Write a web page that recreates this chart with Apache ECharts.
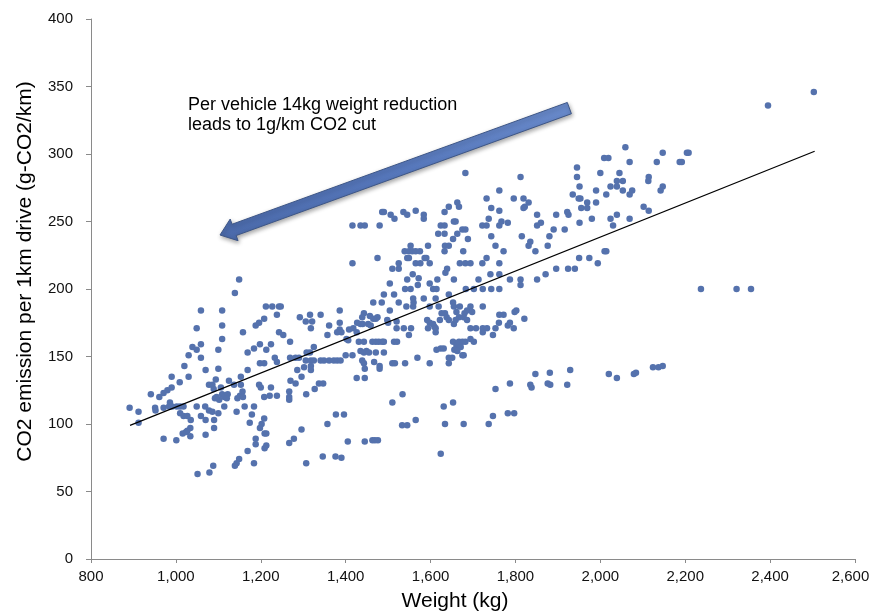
<!DOCTYPE html>
<html>
<head>
<meta charset="utf-8">
<script src="https://cdn.jsdelivr.net/npm/echarts@6/dist/echarts.min.js"></script>
<style>
  html, body { margin: 0; padding: 0; background: #ffffff; }
  #chart { width: 870px; height: 613px; }
</style>
</head>
<body>
<div id="chart"></div>
<script>
// Vehicle kerb weight (kg) against CO2 emission per km (g-CO2/km)
const vehicles = [
  [1149,207],[1139,197],[1059,184],[1109,184],[1212,187],[1227,187],[1243,187],[1247,187],
  [1238,181],[1188,173],[1196,175],[1208,178],[1109,173],[1049,171],[1158,168],[1243,168],
  [1253,166],[1109,163],[1039,157],[1049,155],[1059,159],[1030,151],[1059,149],[1100,155],
  [1169,153],[1184,156],[1198,159],[1213,155],[1224,159],[1269,161],[1020,143],[1070,140],
  [1100,141],[990,135],[1030,135],[1009,131],[990,127],[980,125],[971,123],[961,120],
  [941,122],[1094,133],[1125,132],[1169,140],[1198,145],[1208,145],[1233,149],[1238,146],
  [1269,149],[1153,135],[1153,129],[1137,129],[1078,129],[1086,129],[1089,126],[1106,127],
  [1109,122],[1114,120],[1122,122],[1120,119],[1102,118],[1092,119],[1096,120],[1145,119],
  [1151,121],[1157,124],[1158,120],[1196,129],[1200,127],[1224,127],[1238,121],[1221,121],
  [1208,120],[1267,124],[1267,120],[1267,118],[891,112],[912,109],[912,101],[951,112],
  [952,110],[971,112],[984,113],[986,116],[991,113],[1002,113],[1010,113],[1018,113],
  [1010,108],[1018,106],[1027,106],[1035,103],[1049,113],[1069,113],[1078,110],[1059,106],
  [1070,103],[1090,103],[1086,109],[1100,108],[1114,113],[1143,109],[1162,113],[1184,113],
  [1179,107],[1090,97],[1070,92],[1034,97],[1027,95],[1024,94],[1016,93],[1034,91],
  [971,89],[1001,88],[1174,101],[1208,104],[1202,100],[1198,97],[1209,93],[1213,93],
  [1188,89],[1188,85],[1213,84],[1209,82],[1169,80],[1149,74],[1143,71],[1139,69],
  [1184,71],[1088,69],[1079,64],[1051,63],[1267,86],
  [1504,204],[1553,200],[1540,200],[1570,203],[1598,204],[1606,200],[1614,200],[1643,196],
  [1683,200],[1490,196],[1514,196],[1525,190],[1559,193],[1584,193],[1612,193],[1465,190],
  [1485,190],[1504,184],[1543,187],[1559,187],[1560,190],[1598,187],[1619,187],[1634,182],
  [1653,190],[1655,187],[1669,187],[1661,183],[1667,179],[1680,182],[1686,184],[1626,182],
  [1443,182],[1439,179],[1457,180],[1475,179],[1471,178],[1465,178],[1453,174],[1459,173],
  [1440,174],[1435,174],[1427,175],[1386,184],[1386,175],[1386,170],[1498,177],[1500,175],
  [1520,176],[1592,177],[1598,175],[1606,174],[1609,172],[1612,168],[1622,177],[1638,179],
  [1643,177],[1655,174],[1659,177],[1678,179],[1686,177],[1594,171],[1612,171],[1520,171],
  [1537,171],[1554,171],[1549,166],[1361,173],[1341,181],[1316,181],[1292,179],[1306,176],
  [1321,176],[1318,171],[1390,168],[1408,170],[1418,171],[1426,168],[1402,163],[1406,162],
  [1380,168],[1357,166],[1325,157],[1316,153],[1308,153],[1306,147],[1318,147],[1325,147],
  [1318,143],[1318,140],[1282,149],[1290,149],[1286,140],[1302,142],[1296,135],[1270,132],
  [1282,130],[1341,147],[1349,147],[1361,147],[1372,147],[1380,147],[1388,147],[1400,151],
  [1416,151],[1435,154],[1443,153],[1449,154],[1455,153],[1439,147],[1443,145],[1445,141],
  [1467,146],[1480,143],[1480,141],[1431,161],[1443,161],[1463,161],[1471,161],[1478,161],
  [1486,161],[1490,161],[1514,161],[1521,161],[1471,153],[1490,153],[1510,145],[1516,145],
  [1540,145],[1569,149],[1598,145],[1614,155],[1624,156],[1631,156],[1643,149],[1643,145],
  [1651,149],[1653,161],[1661,158],[1667,161],[1671,157],[1675,161],[1682,161],[1675,151],
  [1678,151],[1656,155],[1663,154],[1426,134],[1445,134],[1510,116],[1534,122],[1631,113],
  [1653,116],[1565,103],[1533,99],[1545,99],[1634,100],[1678,100],[1278,89],[1296,96],
  [1357,100],[1377,107],[1396,107],[1405,87],[1445,87],[1463,88],[1469,88],[1476,88],
  [1346,76],[1376,76],[1390,75],[1307,71],[1624,78],[1307,122],[1327,126],[1337,130],
  [1347,130],
  [1682,286],[1416,247],[1435,247],[1445,247],[1480,247],[1486,257],[1490,257],[1506,255],
  [1515,252],[1536,257],[1545,255],[1565,258],[1584,255],[1584,252],[1633,257],[1643,261],
  [1663,264],[1667,261],[1624,247],[1633,247],[1655,250],[1659,250],[1675,244],[1682,244],
  [1663,241],[1618,241],[1633,241],[1653,237],[1688,237],[1553,232],[1594,232],[1634,232],
  [1643,232],[1539,228],[1549,228],[1557,228],[1565,228],[1575,228],[1633,228],[1677,228],
  [1545,223],[1549,223],[1586,223],[1590,223],[1475,223],[1416,219],[1525,219],[1565,219],
  [1576,219],[1598,219],[1510,215],[1525,215],[1639,215],[1635,212],[1669,219],[1682,219],
  [1558,211],[1545,207],[1616,207],[1655,207],[1572,208],
  [1812,283],[1945,290],[1945,283],[1951,276],[2000,286],[2045,286],[2039,280],[2053,280],
  [2114,283],[2113,280],[2147,276],[2142,273],[1762,273],[1732,267],[1743,260],[1762,258],
  [1796,267],[1819,267],[1822,261],[1831,264],[1819,260],[1722,247],[1732,247],[1737,252],
  [1762,247],[1767,250],[1782,249],[1851,255],[1851,247],[1860,249],[1890,244],[1896,255],
  [1916,244],[1922,257],[1925,255],[1935,270],[1949,267],[1953,267],[1955,260],[1969,264],
  [1969,260],[1990,264],[1990,273],[2014,270],[2024,276],[2039,276],[2053,273],[2069,270],
  [2075,273],[1951,249],[1980,252],[2024,252],[2039,255],[2030,247],[2069,252],[2102,261],
  [2114,258],[1815,239],[1835,235],[1831,232],[1847,228],[1876,232],[1880,239],[1743,239],
  [1753,232],[1772,228],[1732,223],[1722,219],[1694,219],[1762,219],[1741,211],[1762,211],
  [1787,207],[1812,207],[1812,203],[1851,207],[1871,211],[1896,215],[1924,215],[1940,215],
  [1950,223],[1974,223],[1994,219],[2010,228],[2014,228],[1713,207],[1702,200],[1723,200],
  [1743,200],[1762,200],[1694,187],[1698,183],[1723,187],[1694,171],[1707,171],[1723,171],
  [1733,171],[1723,168],[1747,166],[1753,171],[1761,175],[1762,181],[1772,181],[1782,173],
  [1787,175],[1796,171],[1798,183],[1802,184],[1821,178],[1702,161],[1694,163],[1753,126],
  [1787,130],[1835,129],[1838,127],[1847,137],[1881,138],[1876,130],[1882,129],[1922,129],
  [1929,140],[2020,137],[2039,134],[2079,137],[2084,138],[2124,142],[2137,142],[2147,143],
  [1747,106],[1737,100],[1782,108],[1797,108],
  [2395,336],[2503,346],[2059,305],[2009,297],[2019,297],[2147,301],[2204,301],[2208,301],
  [2069,294],[2133,294],[2187,294],[2192,294],
  [2237,200],[2321,200],[2355,200]
];

// Linear trend line end points
const trendLine = [[892, 99], [2505, 302]];

// Axis ranges and steps
const weightAxis = { min: 800, max: 2600, step: 200 };
const co2Axis = { min: 0, max: 400, step: 50 };

// Annotation arrow: tail and head, in data units
const arrowTail = [1927, 334];
const arrowHead = [1104, 240];
const noteLines = ['Per vehicle 14kg weight reduction', 'leads to 1g/km CO2 cut'];

const FONT = '"Liberation Sans", Arial, sans-serif';
const axisGrey = '#8a8a8a';

const chart = echarts.init(document.getElementById('chart'), null, { renderer: 'canvas' });

chart.setOption({
  animation: false,
  backgroundColor: '#ffffff',
  grid: { left: 91, right: 15, top: 19, bottom: 54, containLabel: false, outerBoundsMode: 'none' },
  xAxis: {
    type: 'value',
    min: weightAxis.min,
    max: weightAxis.max,
    interval: weightAxis.step,
    name: 'Weight (kg)',
    nameLocation: 'middle',
    nameGap: 32,
    nameTextStyle: { fontFamily: FONT, fontSize: 21, color: '#000', padding: [0, 36, 0, 0] },
    axisLine: { show: true, lineStyle: { color: axisGrey, width: 1 } },
    axisTick: { show: true, inside: false, length: 4, lineStyle: { color: axisGrey } },
    axisLabel: {
      fontFamily: FONT, fontSize: 15, color: '#111', margin: 10,
      interval: 0, showMaxLabel: true, showMinLabel: true,
      formatter: v => {
        const s = v.toLocaleString('en-US');
        // keep the last label inside the canvas edge
        return v === weightAxis.max ? '{edge|' + s + '}' : s;
      },
      rich: {
        edge: { fontFamily: FONT, fontSize: 15, color: '#111', padding: [0, 9, 0, 0] }
      }
    },
    splitLine: { show: false }
  },
  yAxis: {
    type: 'value',
    min: co2Axis.min,
    max: co2Axis.max,
    interval: co2Axis.step,
    name: 'CO2 emission per 1km drive (g-CO2/km)',
    nameLocation: 'middle',
    nameRotate: 90,
    nameGap: 55,
    nameTextStyle: { fontFamily: FONT, fontSize: 21, color: '#000', padding: [0, 0, 0, 35] },
    axisLine: { show: true, lineStyle: { color: axisGrey, width: 1 } },
    axisTick: { show: true, inside: false, length: 5, lineStyle: { color: axisGrey } },
    axisLabel: { fontFamily: FONT, fontSize: 15, color: '#111', margin: 18 },
    splitLine: { show: false }
  },
  series: [
    {
      name: 'Vehicles',
      type: 'scatter',
      data: vehicles,
      symbol: 'circle',
      symbolSize: 6.5,
      itemStyle: { color: '#5572ad', opacity: 1 },
      z: 2
    },
    {
      name: 'Trend',
      type: 'line',
      data: trendLine,
      showSymbol: false,
      symbol: 'none',
      lineStyle: { color: '#000', width: 1.2 },
      z: 3
    }
  ]
});

// Block arrow and caption, placed from data coordinates
function drawArrow() {
  const t = chart.convertToPixel({ gridIndex: 0 }, arrowTail);
  const p = chart.convertToPixel({ gridIndex: 0 }, arrowHead);
  const dx = p[0] - t[0], dy = p[1] - t[1];
  const len = Math.sqrt(dx * dx + dy * dy);
  const ux = dx / len, uy = dy / len;
  const nx = -uy, ny = ux;
  const shaft = 6, head = 11.5, headLen = 15;
  const bx = p[0] - ux * headLen, by = p[1] - uy * headLen;
  const pts = [
    [t[0] + nx * shaft, t[1] + ny * shaft],
    [bx + nx * shaft, by + ny * shaft],
    [bx + nx * head, by + ny * head],
    [p[0], p[1]],
    [bx - nx * head, by - ny * head],
    [bx - nx * shaft, by - ny * shaft],
    [t[0] - nx * shaft, t[1] - ny * shaft]
  ];
  chart.setOption({
    graphic: [
      {
        type: 'polygon',
        shape: { points: pts },
        style: {
          fill: new echarts.graphic.LinearGradient(0, 0, 0, 1, [
            { offset: 0, color: '#6a8bcb' },
            { offset: 0.5, color: '#5677bb' },
            { offset: 1, color: '#4a69a9' }
          ]),
          stroke: '#3d5687',
          lineWidth: 1,
          shadowBlur: 4,
          shadowColor: 'rgba(0,0,0,0.35)',
          shadowOffsetX: 1,
          shadowOffsetY: 2
        },
        z: 10
      },
      {
        type: 'text',
        left: 188,
        top: 95,
        style: {
          text: noteLines.join('\n'),
          font: '18px ' + FONT,
          fill: '#000',
          lineHeight: 20
        },
        z: 10
      }
    ]
  });
}
drawArrow();
</script>
</body>
</html>
